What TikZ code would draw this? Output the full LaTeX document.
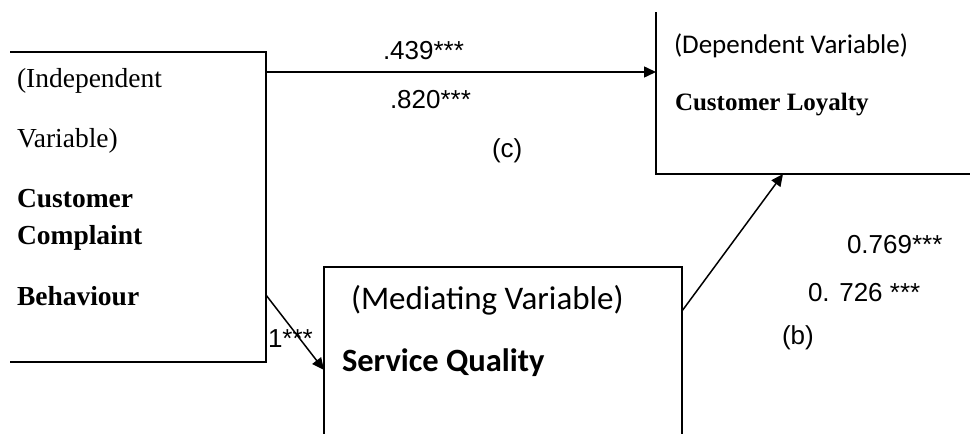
\documentclass[tikz,border=0pt]{standalone}
\usepackage{fontspec}
\setmainfont{Liberation Serif}
\newfontfamily\arialf{Liberation Sans}
\newfontfamily\calf{Carlito}
\usetikzlibrary{arrows.meta}
\begin{document}
\begin{tikzpicture}[x=1pt,y=-1pt,
  boxline/.style={line width=1.5pt},
  conn/.style={line width=1.5pt,-{Triangle[length=12pt,width=11pt]}},
  lbl/.style={anchor=base west,inner sep=0pt,outer sep=0pt},
  numf/.style={lbl,font=\arialf\fontsize{26}{30}\selectfont},
  serf/.style={lbl,font=\fontsize{27.5}{32}\selectfont},
  serb/.style={lbl,font=\bfseries\fontsize{27.5}{32}\selectfont}]
\useasboundingbox (0,0) rectangle (970,434);
% left box (left edge clipped)
\coordinate (L1) at (10,52);
\coordinate (L2) at (266,52);
\coordinate (L3) at (266,362);
\coordinate (L4) at (10,362);
\draw[boxline] (L1) -- (L2) -- (L3) -- (L4);
% right box (top and right clipped)
\coordinate (R1) at (656,12);
\coordinate (R2) at (656,174);
\coordinate (R3) at (970,174);
\draw[boxline] (R1) -- (R2) -- (R3);
% middle box (bottom clipped)
\coordinate (M1) at (324,434);
\coordinate (M2) at (324,267);
\coordinate (M3) at (682,267);
\coordinate (M4) at (682,434);
\draw[boxline] (M1) -- (M2) -- (M3) -- (M4);
% connectors
\coordinate (a1) at (266,72);
\coordinate (a2) at (656,72);
\draw[conn] (a1) -- (a2);
\coordinate (b1) at (266,295);
\coordinate (b2) at (324,370);
\draw[conn] (b1) -- (b2);
\coordinate (c1) at (682,311);
\coordinate (c2) at (783,174);
\draw[conn] (c1) -- (c2);
% left texts
\node[serf] (t1) at (17,87) {(Independent};
\node[serf] (t2) at (17,147) {Variable)};
\node[serb] (t3) at (17,207) {Customer};
\node[serb] (t4) at (17,244) {Complaint};
\node[serb] (t5) at (17,305) {Behaviour};
% right box texts
\node[lbl,font=\calf\fontsize{27}{32}\selectfont] (d1) at (674,53) {(Dependent Variable)};
\node[lbl,font=\bfseries\fontsize{25}{30}\selectfont] (d2) at (675,110) {Customer Loyalty};
% middle box texts
\node[lbl,font=\calf\fontsize{33}{38}\selectfont] (m1) at (351,309) {(Mediating Variable)};
\node[lbl,font=\calf\bfseries\fontsize{32.5}{38}\selectfont] (m2) at (342,371) {Service Quality};
% numbers
\node[numf] (n1) at (383,59) {.439***};
\node[numf] (n2) at (390,108) {.820***};
\node[numf] (n3) at (492,157) {(c)};
\node[numf] (n4) at (268,347) {1***};
\node[numf] (n5) at (847,253) {0.769***};
\node[numf] (n6) at (808,301) {0. 726 ***};
\node[numf] (n7) at (782,344) {(b)};
\end{tikzpicture}
\end{document}
